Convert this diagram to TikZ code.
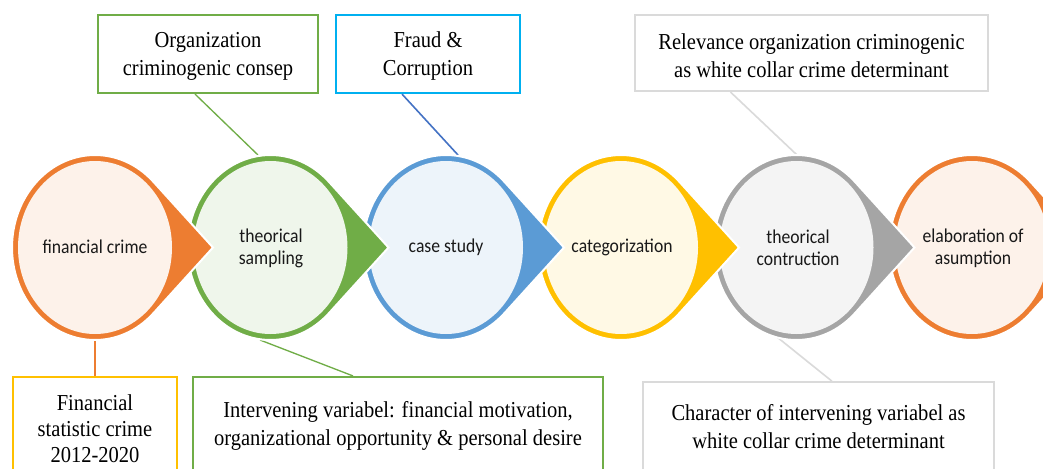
\documentclass[tikz,border=0pt]{standalone}
\usepackage{fontspec}
\setmainfont{Liberation Serif}[FakeStretch=0.9]
\newfontfamily\circfont{Carlito}[FakeStretch=0.9]
\usetikzlibrary{calc}
\definecolor{cOrange}{HTML}{ED7D31}
\definecolor{cGreen}{HTML}{70AD47}
\definecolor{cBlue}{HTML}{5B9BD5}
\definecolor{cYellow}{HTML}{FFC000}
\definecolor{cGrey}{HTML}{A5A5A5}
\definecolor{cCyan}{HTML}{00B0F0}
\definecolor{cDark}{HTML}{4472C4}
\definecolor{cLight}{HTML}{DADADA}
\newcommand{\teardrop}[3]{%
  \fill[#2, draw=white, line width=1.5pt] (#1+118,247.5) -- ([shift={(#1,247.5)}]45.3:83 and 92.5)
     arc[start angle=45.3, end angle=314.7, x radius=83, y radius=92.5] -- cycle;
  \fill[#3] (#1,247.5) ellipse[x radius=77, y radius=86.5];
}
\tikzset{
  boxtxt/.style={align=center, font=\fontsize{17.1pt}{21pt}\selectfont, inner sep=0pt},
  circtxt/.style={align=center, font=\circfont\fontsize{14.7pt}{16.5pt}\selectfont, inner sep=0pt, text=black!90},
  framebox/.style={draw=#1, line width=1.6pt, inner sep=0pt},
  link/.style={draw=#1, line width=1pt},
}
\begin{document}
\begin{tikzpicture}[x=0.75pt, y=-0.75pt]
\clip (0,0) rectangle (1043,468);
\fill[white] (0,0) rectangle (1043,468);

% top boxes
\node[framebox=cGreen, minimum width=165pt, minimum height=58.5pt] (org) at (208,54) {};
\node[boxtxt] (orgt) at (208,56) {Organization\\criminogenic consep};
\node[framebox=cCyan, minimum width=138pt, minimum height=58.5pt] (fraud) at (428,54) {};
\node[boxtxt] (fraudt) at (428,56) {Fraud \&\\Corruption};
\node[framebox=cLight, minimum width=264.75pt, minimum height=57pt] (rel) at (811.5,53) {};
\node[boxtxt] (relt) at (811.5,55.5) {Relevance organization criminogenic\\as white collar crime determinant};

% bottom boxes (cut by the lower edge)
\node[framebox=cYellow, minimum width=123pt, minimum height=90pt] (fin) at (95,437) {};
\node[boxtxt, font=\fontsize{17.1pt}{19.5pt}\selectfont] (fint) at (95,428.5) {Financial\\statistic crime\\2012-2020};
\node[framebox=cGreen, minimum width=307.5pt, minimum height=90pt] (inter) at (398,437) {};
\node[boxtxt] (intert) at (398,426) {Intervening variabel: financial motivation,\\organizational opportunity \& personal desire};
\node[framebox=cLight, minimum width=263.25pt, minimum height=86pt] (char) at (818.5,439.5) {};
\node[boxtxt] (chart) at (818.5,426.5) {Character of intervening variabel as\\white collar crime determinant};

% connection points on the circles
\coordinate (c2top) at (258,155);
\coordinate (c3top) at (458,155);
\coordinate (c5top) at (797,155);
\coordinate (c1bot) at (95,340);
\coordinate (c2bot) at (260,340);
\coordinate (c5bot) at (777,337);

% connectors
\draw[link=cGreen] ([xshift=-9.75pt]org.south) -- (c2top);
\draw[link=cDark, line width=1.2pt] ([xshift=-19.5pt]fraud.south) -- (c3top);
\draw[link=cLight, line width=1.2pt] ([xshift=-60.75pt]rel.south) -- (c5top);
\draw[link=cOrange, line width=1.6pt] (c1bot) -- (fin.north);
\draw[link=cGreen] (c2bot) -- ([xshift=-33.75pt]inter.north);
\draw[link=cLight, line width=1.2pt] (c5bot) -- ([xshift=10pt]char.north);

% process shapes, drawn from last to first
\teardrop{972}{cOrange}{cOrange!10!white}
\teardrop{796.5}{cGrey}{cGrey!12!white}
\teardrop{621}{cYellow}{cYellow!10!white}
\teardrop{446}{cBlue}{cBlue!11!white}
\teardrop{270.5}{cGreen}{cGreen!11!white}
\teardrop{95}{cOrange}{cOrange!10!white}

\node[circtxt] (c1) at (95,247) {financial crime};
\node[circtxt] (c2) at (271,248) {theorical\\sampling};
\node[circtxt] (c3) at (446,247) {case study};
\node[circtxt] (c4) at (622,247) {categorization};
\node[circtxt] (c5) at (798,248) {theorical\\contruction};
\node[circtxt] (c6) at (973,248) {elaboration of\\asumption};
\end{tikzpicture}
\end{document}
